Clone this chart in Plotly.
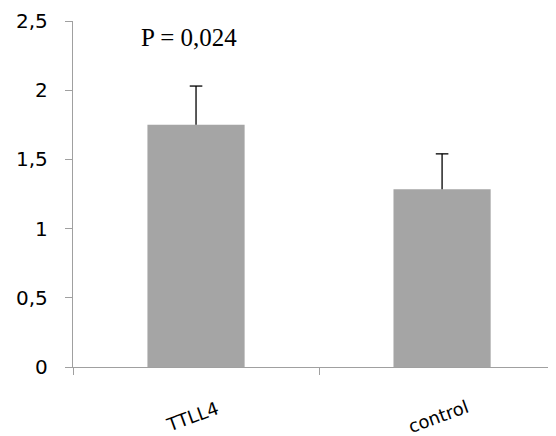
import plotly.graph_objects as go

categories = ["TTLL4", "control"]
values = [1.75, 1.285]
errors_up = [0.28, 0.255]
y_ticks = [0, 0.5, 1, 1.5, 2, 2.5]
p_label = "P = 0,024"

caps = [v + e for v, e in zip(values, errors_up)]

fig = go.Figure()
fig.add_trace(go.Bar(
    x=categories, y=values, width=0.395,
    marker=dict(color="#a5a5a5", line=dict(width=0)),
    error_y=dict(type="data", symmetric=False, array=errors_up,
                 arrayminus=[0] * len(values), color="black",
                 thickness=1.3, width=0),
))
fig.add_trace(go.Scatter(
    x=categories, y=caps, mode="markers",
    marker=dict(symbol="line-ew-open", size=9, color="black",
                line=dict(color="black", width=1.3)),
    hoverinfo="skip",
))

annotations = []
for c in categories:
    annotations.append(dict(
        x=c, xref="x", y=-0.142, yref="paper", text=c, showarrow=False,
        textangle=-20, xshift=-4,
        font=dict(family="DejaVu Sans", size=18, color="black"),
        xanchor="center", yanchor="middle"))
annotations.append(dict(
    x=categories[0], xref="x", y=0.951, yref="paper", text=p_label,
    showarrow=False, xshift=-7,
    font=dict(family="Liberation Serif", size=25, color="black"),
    xanchor="center", yanchor="middle"))

# page body has an 8px default margin; compensate so the plot lands in place
fig.update_layout(
    width=548, height=428,
    margin=dict(l=65, r=0, t=13, b=69),
    plot_bgcolor="white", paper_bgcolor="white",
    separators=",.",
    showlegend=False,
    annotations=annotations,
    xaxis=dict(
        range=[-0.5, 1.463], showline=True, linecolor="#a0a0a0", linewidth=1.3,
        ticks="outside", tickson="boundaries", ticklen=7, tickcolor="#a0a0a0",
        showticklabels=False, showgrid=False, zeroline=False),
    yaxis=dict(
        range=[0, 2.5], tickvals=y_ticks, showline=True, linecolor="#a0a0a0",
        linewidth=1.3, ticks="outside", ticklen=7, tickcolor="#a0a0a0",
        ticklabelstandoff=13, showgrid=False, zeroline=False,
        tickfont=dict(family="DejaVu Sans", size=20, color="black")),
)

fig.write_html("out.html")
